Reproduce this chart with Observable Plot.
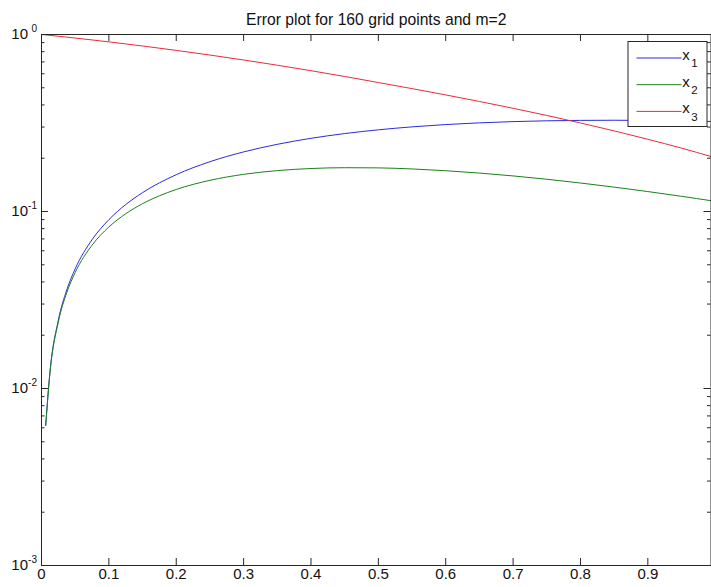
<!DOCTYPE html>
<html>
<head>
<meta charset="utf-8">
<script src="https://cdn.jsdelivr.net/npm/d3@7"></script>
<script src="https://cdn.jsdelivr.net/npm/@observablehq/plot@0.6"></script>
<style>
  body { margin: 0; background: #fff; }
  #chart svg { display: block; }
</style>
</head>
<body>
<div id="chart"></div>
<script>
// Grid positions where the errors were sampled
const gridX = [0, 0.00625, 0.0125, 0.025, 0.0375, 0.05, 0.075, 0.1, 0.125, 0.15, 0.2, 0.25, 0.3,
  0.35, 0.4, 0.45, 0.5, 0.55, 0.6, 0.65, 0.7, 0.75, 0.8, 0.85, 0.9, 0.95, 0.99375];

// Error of each component (null where the error is zero and cannot sit on a log axis)
const errX1 = [null, 0.00621, 0.01234, 0.02435, 0.03604, 0.04742, 0.06927, 0.08991, 0.10943, 0.12783,
  0.16145, 0.19111, 0.21711, 0.23965, 0.25915, 0.27558, 0.28938, 0.30072, 0.30988, 0.31687,
  0.32206, 0.32539, 0.32718, 0.3278, 0.32694, 0.32499, 0.32255];
const errX2 = [null, 0.00617, 0.01219, 0.02378, 0.03478, 0.04522, 0.06449, 0.08173, 0.09708, 0.1107,
  0.13316, 0.15002, 0.16217, 0.17024, 0.17492, 0.17678, 0.17636, 0.17395, 0.16998, 0.16487,
  0.15883, 0.15211, 0.14483, 0.13734, 0.12961, 0.12184, 0.1151];
const errX3 = [1, 0.99443, 0.98884, 0.97757, 0.96623, 0.9548, 0.93171, 0.90835, 0.88479, 0.86106,
  0.81328, 0.76546, 0.71769, 0.67063, 0.6244, 0.57918, 0.5353, 0.4946, 0.4557, 0.4185,
  0.3829, 0.3489, 0.3163, 0.2854, 0.2559, 0.2281, 0.2044];

const seriesKeys = ["x1", "x2", "x3"];
const seriesColors = ["#2a2ae0", "#1b821b", "#ec2a3a"];
const legendSubscripts = ["1", "2", "3"];

const xTicks = [0, 0.1, 0.2, 0.3, 0.4, 0.5, 0.6, 0.7, 0.8, 0.9];
const xTickLabels = ["0", "0.1", "0.2", "0.3", "0.4", "0.5", "0.6", "0.7", "0.8", "0.9"];
const yDecades = [1e-3, 1e-2, 1e-1, 1];
const yExponents = ["-3", "-2", "-1", "0"];

const titleText = "Error plot for 160 grid points and m=2";

// Long-format rows for the line mark
const rows = [];
[errX1, errX2, errX3].forEach((vals, s) => {
  gridX.forEach((x, i) => rows.push({x, err: vals[i], series: seriesKeys[s]}));
});

// Minor log ticks (2..9 within each decade)
const yMinor = [];
for (const d of yDecades.slice(0, -1)) for (let k = 2; k <= 9; ++k) yMinor.push(d * k);

const W = 711, H = 587;
const M = {top: 34, right: 0.5, bottom: 22, left: 41};
const innerW = W - M.left - M.right;
const innerH = H - M.top - M.bottom;
const axisColor = "#262626";
const textColor = "#111";
const font = "'Liberation Sans', Arial, sans-serif";
const majorLen = 7, minorLen = 3.5;

// Boxed legend in the upper-right corner of the axes
function legend(index, scales, values, dims) {
  const g = d3.create("svg:g").attr("font-family", font);
  const right = dims.width - dims.marginRight;
  const bx = right - 82.5, by = dims.marginTop + 7.5, bw = 79, bh = 85;
  g.append("rect").attr("x", bx).attr("y", by).attr("width", bw).attr("height", bh)
    .attr("fill", "#fff").attr("stroke", axisColor).attr("stroke-width", 1);
  seriesKeys.forEach((k, i) => {
    const ly = by + 16.5 + i * 26.7;
    g.append("line").attr("x1", bx + 8.5).attr("x2", bx + 53.5).attr("y1", ly).attr("y2", ly)
      .attr("stroke", seriesColors[i]).attr("stroke-width", 1);
    g.append("text").attr("x", bx + 58).attr("y", ly + 2).attr("font-size", 15).attr("fill", textColor)
      .text("x");
    g.append("text").attr("x", bx + 66.5).attr("y", ly + 9.3).attr("font-size", 11.5).attr("fill", textColor)
      .text(legendSubscripts[i]);
  });
  return g.node();
}

const chart = Plot.plot({
  width: W,
  height: H,
  marginTop: M.top,
  marginRight: M.right,
  marginBottom: M.bottom,
  marginLeft: M.left,
  style: {fontFamily: font, fontSize: "14px", color: textColor, background: "#fff"},
  x: {domain: [0, 0.99375], axis: null},
  y: {type: "log", domain: [1e-3, 1], axis: null},
  color: {domain: seriesKeys, range: seriesColors},
  marks: [
    Plot.line(rows, {x: "x", y: "err", z: "series", stroke: "series", strokeWidth: 1, curve: "monotone-x"}),
    Plot.frame({stroke: axisColor, strokeWidth: 1}),
    // inward ticks on all four sides
    Plot.tickX(xTicks, {x: d => d, insetTop: innerH - majorLen, stroke: axisColor}),
    Plot.tickX(xTicks, {x: d => d, insetBottom: innerH - majorLen, stroke: axisColor}),
    Plot.tickY(yDecades, {y: d => d, insetRight: innerW - majorLen, stroke: axisColor}),
    Plot.tickY(yDecades, {y: d => d, insetLeft: innerW - majorLen, stroke: axisColor}),
    Plot.tickY(yMinor, {y: d => d, insetRight: innerW - minorLen, stroke: axisColor}),
    Plot.tickY(yMinor, {y: d => d, insetLeft: innerW - minorLen, stroke: axisColor}),
    // tick labels
    Plot.text(xTicks, {x: d => d, text: (d, i) => xTickLabels[i], frameAnchor: "bottom", dy: 13, fontSize: 15, fill: textColor}),
    Plot.text(yDecades, {y: d => d, text: () => "10", frameAnchor: "left", dx: -13.5, textAnchor: "end", fontSize: 15, fill: textColor}),
    Plot.text(yDecades, {y: d => d, text: (d, i) => yExponents[i], frameAnchor: "left", dx: -4.5, dy: -6, textAnchor: "end", fontSize: 10, fill: textColor}),
    // title
    Plot.text([titleText], {frameAnchor: "top", dy: -21, fontSize: 15.7, fill: textColor}),
    legend
  ]
});

document.getElementById("chart").append(chart);
</script>
</body>
</html>
